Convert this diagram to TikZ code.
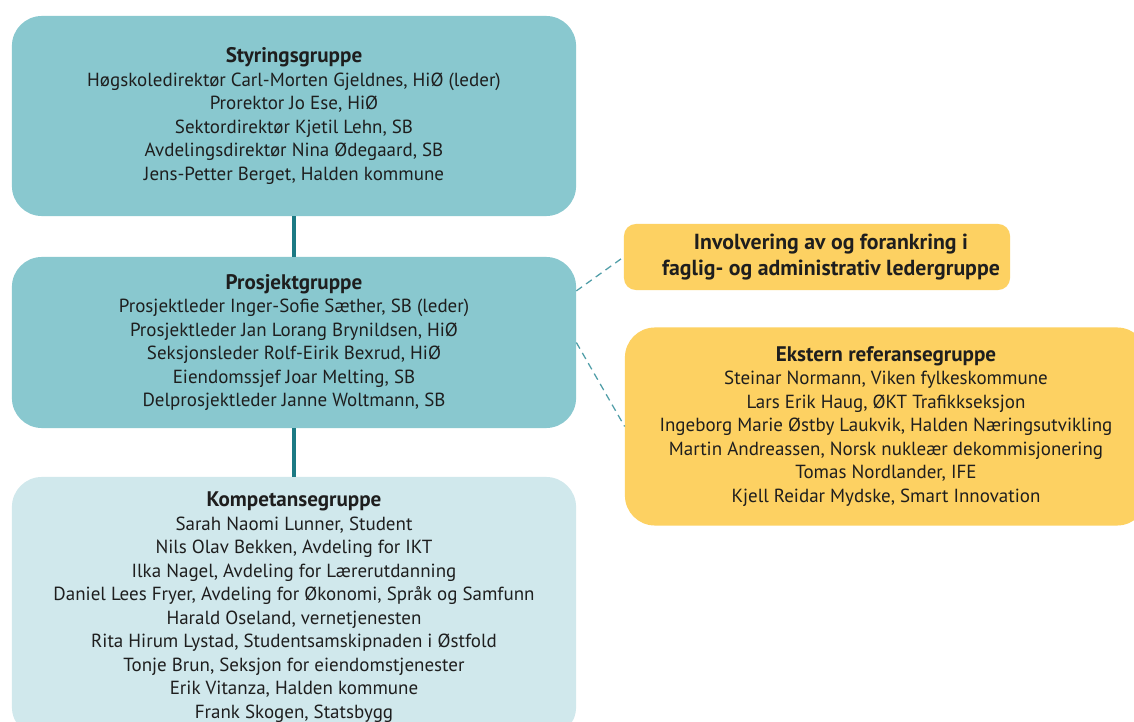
\documentclass[tikz,border=0pt]{standalone}
\usepackage{fontspec}
\setmainfont{PT Sans}
\usepackage{tikz}
\usetikzlibrary{positioning, calc}
\definecolor{teal1}{RGB}{137,200,207}
\definecolor{teal2}{RGB}{208,232,236}
\definecolor{teal3}{RGB}{28,122,132}
\definecolor{teal4}{RGB}{80,158,168}
\definecolor{yellow1}{RGB}{253,209,98}
\definecolor{ink}{RGB}{30,30,30}
\newcommand{\grouptitle}[1]{{\fontsize{15}{16.7}\selectfont\bfseries #1}}

\begin{document}
\begin{tikzpicture}[x=0.025cm,y=-0.025cm]
        \tikzstyle{group}=[rectangle,rounded corners=0.75cm,draw=none,align=center,text=ink,
                           inner sep=0pt,font=\fontsize{13.5}{16.7}\selectfont]
        \tikzstyle{link}=[draw=teal3,line width=3.5pt]
        \tikzstyle{relation}=[draw=teal4,line width=0.9pt,dash pattern=on 5pt off 3.5pt]

        \useasboundingbox (0,0) rectangle (1134,722);
        \clip (0,0) rectangle (1134,722);
        \fill[white] (0,0) rectangle (1134,722);

        \node[group,fill=teal1,minimum width=14.1cm,minimum height=5cm] (styring) at (294,116)
            {\grouptitle{Styringsgruppe}\\
             Høgskoledirektør Carl-Morten Gjeldnes, HiØ (leder)\\
             Prorektor Jo Ese, HiØ\\
             Sektordirektør Kjetil Lehn, SB\\
             Avdelingsdirektør Nina Ødegaard, SB\\
             Jens-Petter Berget, Halden kommune};
        \node[group,fill=teal1,minimum width=14.1cm,minimum height=4.275cm] (prosjekt) at (294,342.5)
            {\grouptitle{Prosjektgruppe}\\
             Prosjektleder Inger-Sofie Sæther, SB (leder)\\
             Prosjektleder Jan Lorang Brynildsen, HiØ\\
             Seksjonsleder Rolf-Eirik Bexrud, HiØ\\
             Eiendomssjef Joar Melting, SB\\
             Delprosjektleder Janne Woltmann, SB};
        \node[group,fill=teal2,minimum width=14.1cm,minimum height=6.5cm] (kompetanse) at (294,607)
            {\grouptitle{Kompetansegruppe}\\
             Sarah Naomi Lunner, Student\\
             Nils Olav Bekken, Avdeling for IKT\\
             Ilka Nagel, Avdeling for Lærerutdanning\\
             Daniel Lees Fryer, Avdeling for Økonomi, Språk og Samfunn\\
             Harald Oseland, vernetjenesten\\
             Rita Hirum Lystad, Studentsamskipnaden i Østfold\\
             Tonje Brun, Seksjon for eiendomstjenester\\
             Erik Vitanza, Halden kommune\\
             Frank Skogen, Statsbygg};
        \node[group,fill=yellow1,rounded corners=0.3cm,minimum width=9.65cm,minimum height=1.65cm,
              font=\fontsize{15.5}{18.5}\selectfont\bfseries] (forankring) at (817,257)
            {\hspace*{0.7cm}Involvering av og forankring i\\
             \hspace*{0.7cm}faglig- og administrativ ledergruppe};
        \node[group,fill=yellow1,minimum width=13.05cm,minimum height=4.95cm] (ekstern) at (886,426.5)
            {\grouptitle{Ekstern referansegruppe}\\
             Steinar Normann, Viken fylkeskommune\\
             Lars Erik Haug, ØKT Trafikkseksjon\\
             Ingeborg Marie Østby Laukvik, Halden Næringsutvikling\\
             Martin Andreassen, Norsk nukleær dekommisjonering\\
             Tomas Nordlander, IFE\\
             Kjell Reidar Mydske, Smart Innovation};

        \path[link] (styring) -- (prosjekt);
        \path[link] (prosjekt) -- (kompetanse);
        \path[relation] ([yshift=1.29cm]prosjekt.east) -- (forankring.west);
        \path[relation] (prosjekt.east) -- (ekstern.west);
    \end{tikzpicture}
\end{document}
